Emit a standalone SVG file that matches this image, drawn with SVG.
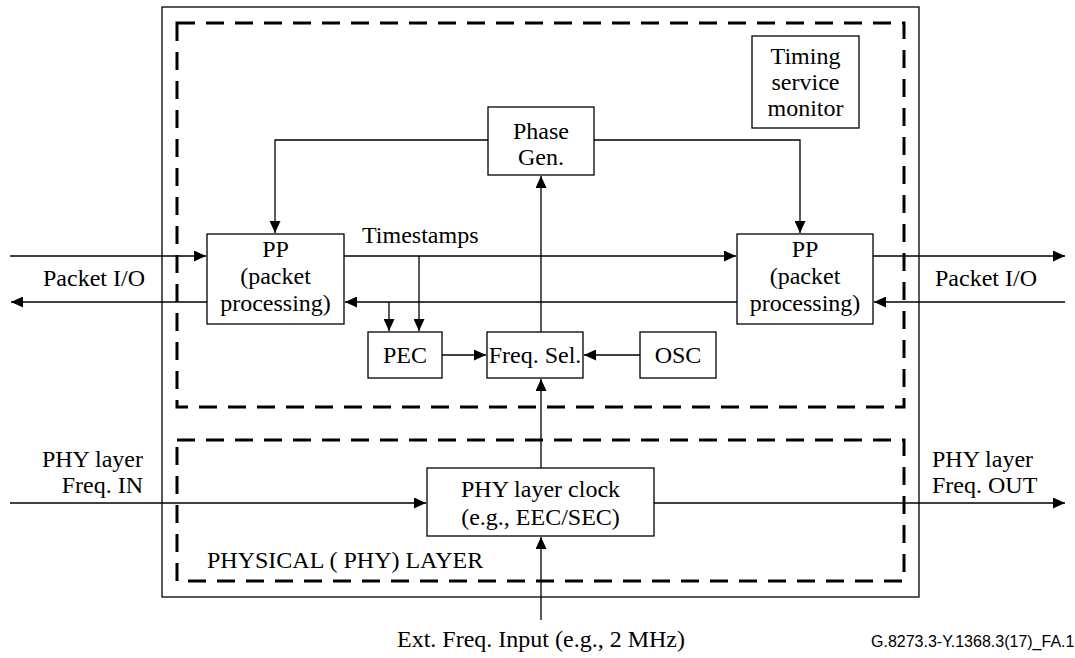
<svg xmlns="http://www.w3.org/2000/svg" width="1075" height="658" viewBox="0 0 1075 658">
<style>
.box{fill:#fff;stroke:#000;stroke-width:1.3}
.dash{fill:none;stroke:#000;stroke-width:3;stroke-dasharray:18 11}
.ln{fill:none;stroke:#000;stroke-width:1.3}
.t{font-family:"Liberation Serif",serif;font-size:24px;fill:#000}
.m{text-anchor:middle}
.e{text-anchor:end}
.s{font-family:"Liberation Sans",Arial,sans-serif;font-size:16px;fill:#000}
</style>
<defs>
<marker id="ah" markerWidth="13" markerHeight="11" refX="12" refY="5.5" orient="auto" markerUnits="userSpaceOnUse">
<path d="M0,0 L12,5.5 L0,11 Z" fill="#000"/>
</marker>
</defs>
<rect width="1075" height="658" fill="#fff"/>
<g id="frame">
<rect x="162" y="7" width="757" height="590" class="box" fill="none"/>
<rect x="177" y="23" width="727" height="384" class="dash"/>
<rect x="177" y="440" width="727" height="141" class="dash"/>
</g>
<g id="connectors">
<path class="ln" d="M488,140 H275 V233" marker-end="url(#ah)"/>
<path class="ln" d="M594,140 H800 V233" marker-end="url(#ah)"/>
<path class="ln" d="M541,332 V176" marker-end="url(#ah)"/>
<path class="ln" d="M10,256 H206" marker-end="url(#ah)"/>
<path class="ln" d="M207,302 H11" marker-end="url(#ah)"/>
<path class="ln" d="M344,256 H736" marker-end="url(#ah)"/>
<path class="ln" d="M737,302 H345" marker-end="url(#ah)"/>
<path class="ln" d="M873,256 H1065" marker-end="url(#ah)"/>
<path class="ln" d="M1065,302 H874" marker-end="url(#ah)"/>
<path class="ln" d="M419,256 V331" marker-end="url(#ah)"/>
<path class="ln" d="M389,302 V331" marker-end="url(#ah)"/>
<path class="ln" d="M442,355 H486" marker-end="url(#ah)"/>
<path class="ln" d="M640,355 H584" marker-end="url(#ah)"/>
<path class="ln" d="M541,468 V379" marker-end="url(#ah)"/>
<path class="ln" d="M10,503 H426" marker-end="url(#ah)"/>
<path class="ln" d="M654,503 H1065" marker-end="url(#ah)"/>
<path class="ln" d="M541,620 V537" marker-end="url(#ah)"/>
</g>
<g id="tsm">
<rect x="752" y="36" width="107" height="92" class="box"/>
<text class="t m" x="805.5" y="64">Timing</text>
<text class="t m" x="805.5" y="90">service</text>
<text class="t m" x="805.5" y="116">monitor</text>
</g>
<g id="phasegen">
<rect x="488" y="107" width="106" height="68" class="box"/>
<text class="t m" x="541" y="139">Phase</text>
<text class="t m" x="541" y="165">Gen.</text>
</g>
<g id="ppleft">
<rect x="207" y="234" width="137" height="90" class="box"/>
<text class="t m" x="275.5" y="257">PP</text>
<text class="t m" x="275.5" y="284">(packet</text>
<text class="t m" x="275.5" y="311">processing)</text>
</g>
<g id="ppright">
<rect x="737" y="234" width="136" height="90" class="box"/>
<text class="t m" x="805" y="257">PP</text>
<text class="t m" x="805" y="284">(packet</text>
<text class="t m" x="805" y="311">processing)</text>
</g>
<g id="pec">
<rect x="368" y="332" width="74" height="46" class="box"/>
<text class="t m" x="405" y="363">PEC</text>
</g>
<g id="freqsel">
<rect x="487" y="332" width="96" height="46" class="box"/>
<text class="t m" x="535" y="363">Freq. Sel.</text>
</g>
<g id="osc">
<rect x="640" y="332" width="76" height="46" class="box"/>
<text class="t m" x="678" y="363">OSC</text>
</g>
<g id="phyclock">
<rect x="427" y="468" width="227" height="68" class="box"/>
<text class="t m" x="540.5" y="497">PHY layer clock</text>
<text class="t m" x="540.5" y="525">(e.g., EEC/SEC)</text>
</g>
<g id="labels">
<text class="t" x="362" y="243">Timestamps</text>
<text class="t" x="43" y="286">Packet I/O</text>
<text class="t" x="935" y="286">Packet I/O</text>
<text class="t e" x="143" y="467">PHY layer</text>
<text class="t e" x="143" y="493">Freq. IN</text>
<text class="t" x="932" y="467">PHY layer</text>
<text class="t" x="932" y="493">Freq. OUT</text>
<text class="t" x="207" y="568">PHYSICAL ( PHY) LAYER</text>
<text class="t m" x="541" y="647">Ext. Freq. Input (e.g., 2 MHz)</text>
<text class="s" x="871" y="647">G.8273.3-Y.1368.3(17)_FA.1</text>
</g>
</svg>
